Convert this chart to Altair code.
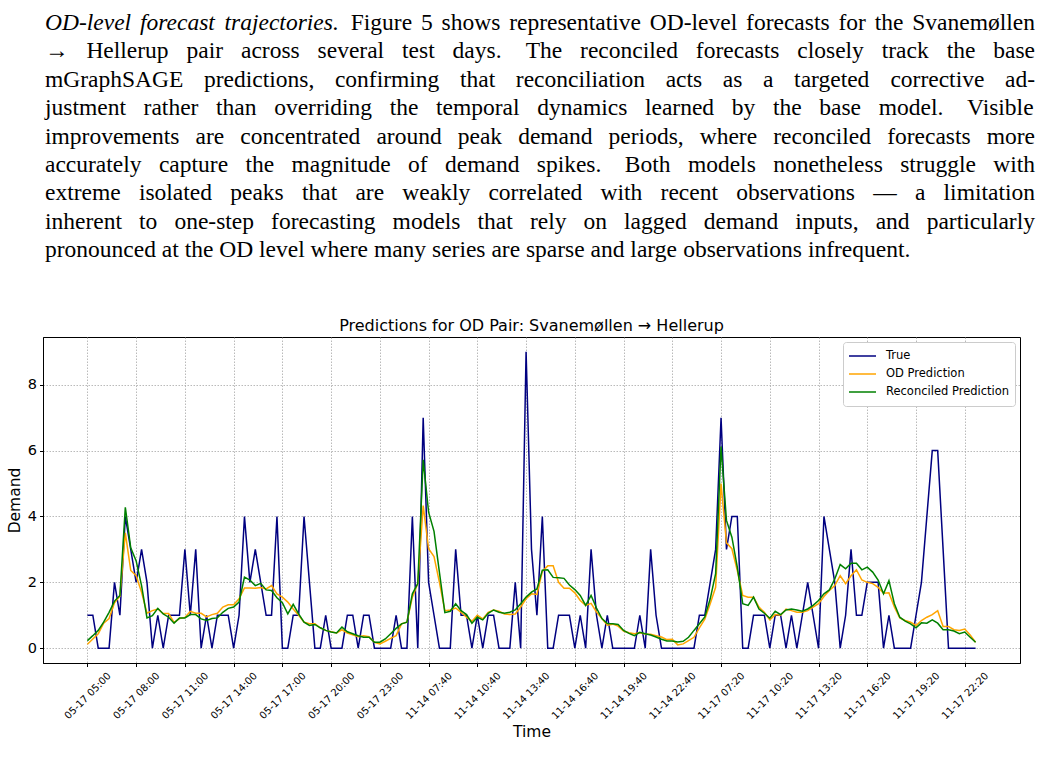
import json
import altair as alt
import pandas as pd

# ---------------- data ----------------
true_vals = [1, 1, 0, 0, 0, 2, 1, 4, 3, 2, 3, 2, 0, 1, 0, 1, 1, 1, 3, 1, 3, 0, 1, 0,
             1, 1, 1, 0, 1, 4, 2, 3, 2, 1, 1, 4, 0, 0, 1, 1, 4, 2, 0, 0, 1, 0,
             0, 0, 1, 1, 0, 1, 1, 0, 0, 0, 0, 1, 0, 0, 4, 0, 7, 2, 1, 0, 0, 0, 3,
             1, 1, 0, 1, 0, 1, 1, 0, 0, 0, 2, 0, 9, 3, 1, 4, 0, 0, 1, 1, 1, 0, 1,
             0, 3, 1, 0, 1, 0, 0, 0, 0, 0, 1, 0, 3, 1, 0, 0, 0, 0, 0, 0, 0, 1, 1,
             2, 3, 7, 3, 4, 4, 0, 0, 1, 1, 1, 0, 1, 1, 0, 1, 0, 1, 2, 1, 0, 4, 3,
             2, 0, 1, 3, 1, 1, 2, 2, 2, 0, 1, 0, 0, 0, 0, 1, 2, 4, 6, 6, 3, 0, 0,
             0, 0, 0, 0]

od_vals = [0.12, 0.28, 0.44, 0.76, 0.90, 1.38, 1.58, 3.50, 2.36, 2.20, 1.70, 1.06,
           1.14, 1.19, 1.05, 1.05, 0.78, 0.90, 0.93, 1.12, 1.06, 1.06, 0.95, 1.02,
           1.06, 1.25, 1.32, 1.32, 1.50, 1.83, 1.83, 1.82, 1.84, 1.80, 1.90, 1.65,
           1.55, 1.40, 1.19, 1.00, 0.79, 0.74, 0.74, 0.62, 0.54, 0.50,
           0.46, 0.56, 0.46, 0.41, 0.35, 0.38, 0.35, 0.18, 0.13, 0.21, 0.30, 0.38,
           0.74, 0.79, 1.55, 1.96, 4.33, 3.02, 2.78, 2.00, 1.14, 1.16, 1.22,
           1.09, 0.94, 0.82, 1.00, 0.89, 1.09, 1.16, 1.12, 1.04, 1.02, 1.04, 1.25,
           1.50, 1.65, 1.63, 2.33, 2.50, 2.50, 2.00, 1.82, 1.82, 1.68, 1.45,
           1.30, 1.36, 1.10, 0.90, 0.70, 0.73, 0.67, 0.52, 0.47, 0.44, 0.47, 0.43,
           0.42, 0.38, 0.34, 0.26, 0.27, 0.10, 0.13, 0.23, 0.33, 0.62, 0.88,
           1.35, 1.85, 5.00, 3.20, 3.02, 2.36, 1.60, 1.55, 1.55, 1.25, 1.09, 0.86,
           1.02, 1.00, 1.19, 1.14, 1.09, 1.09, 1.14, 1.25, 1.35, 1.57, 1.75,
           1.90, 2.20, 1.96, 2.20, 2.38, 2.07, 2.00, 1.96, 1.85, 1.67, 1.68, 1.25,
           0.92, 0.84, 0.79, 0.69, 0.84, 0.94, 1.02, 1.14, 0.66, 0.66, 0.56, 0.54,
           0.58, 0.40, 0.18]

rec_vals = [0.23, 0.38, 0.54, 0.79, 1.09, 1.43, 1.60, 4.28, 3.05, 2.65, 1.90, 0.92,
            0.99, 1.21, 1.04, 0.94, 0.76, 0.92, 0.92, 1.02, 1.02, 0.89, 0.84, 0.90,
            0.92, 1.09, 1.21, 1.25, 1.40, 2.16, 2.07, 1.90, 1.97, 1.77, 1.75, 1.53,
            1.38, 1.04, 1.33, 1.04, 0.79, 0.69, 0.72, 0.62, 0.54, 0.49,
            0.46, 0.64, 0.50, 0.44, 0.38, 0.33, 0.33, 0.18, 0.18, 0.28, 0.44, 0.60,
            0.74, 0.79, 1.65, 1.96, 5.72, 4.13, 3.55, 2.30, 1.08, 1.12, 1.35,
            1.14, 1.02, 0.76, 0.94, 0.86, 1.06, 1.16, 1.09, 1.06, 1.09, 1.16, 1.35,
            1.55, 1.70, 1.80, 2.37, 2.38, 2.15, 2.14, 2.12, 1.92, 1.78, 1.60,
            1.30, 1.60, 1.22, 0.90, 0.75, 0.74, 0.72, 0.54, 0.45, 0.38, 0.48, 0.44,
            0.40, 0.34, 0.27, 0.22, 0.22, 0.19, 0.21, 0.33, 0.54, 0.74, 0.95,
            1.50, 2.26, 6.12, 3.88, 3.37, 2.46, 1.35, 1.30, 1.55, 1.19, 1.06, 0.91,
            1.12, 1.02, 1.16, 1.19, 1.16, 1.12, 1.19, 1.30, 1.45, 1.65, 1.77,
            2.10, 2.54, 2.41, 2.58, 2.58, 2.38, 2.46, 2.31, 2.07, 1.65, 2.05, 1.35,
            0.94, 0.82, 0.74, 0.62, 0.77, 0.76, 0.86, 0.76, 0.56, 0.56, 0.52, 0.44,
            0.49, 0.33, 0.18]

tick_labels = ["05-17 05:00", "05-17 08:00", "05-17 11:00", "05-17 14:00",
               "05-17 17:00", "05-17 20:00", "05-17 23:00", "11-14 07:40",
               "11-14 10:40", "11-14 13:40", "11-14 16:40", "11-14 19:40",
               "11-14 22:40", "11-17 07:20", "11-17 10:20", "11-17 13:20",
               "11-17 16:20", "11-17 19:20", "11-17 22:20"]
tick_step = 9
y_ticks = [0, 2, 4, 6, 8]

series_names = ["True", "OD Prediction", "Reconciled Prediction"]
series_colors = ["#000080", "#FFA500", "#008000"]

chart_title = "Predictions for OD Pair: Svanemøllen \u2192 Hellerup"
x_title = "Time"
y_title = "Demand"

para_italic = "OD-level forecast trajectories."
para_lines = [
    "Figure 5 shows representative OD-level forecasts for the Svanemøllen",
    "\u2192 Hellerup pair across several test days. The reconciled forecasts closely track the base",
    "mGraphSAGE predictions, confirming that reconciliation acts as a targeted corrective ad-",
    "justment rather than overriding the temporal dynamics learned by the base model. Visible",
    "improvements are concentrated around peak demand periods, where reconciled forecasts more",
    "accurately capture the magnitude of demand spikes. Both models nonetheless struggle with",
    "extreme isolated peaks that are weakly correlated with recent observations \u2014 a limitation",
    "inherent to one-step forecasting models that rely on lagged demand inputs, and particularly",
    "pronounced at the OD level where many series are sparse and large observations infrequent.",
]

# ---------------- paragraph layout (justified, Times metrics) ----------------
ROMAN = {' ': 250, 'a': 444, 'b': 500, 'c': 444, 'd': 500, 'e': 444, 'f': 333,
         'g': 500, 'h': 500, 'i': 278, 'j': 278, 'k': 500, 'l': 278, 'm': 778,
         'n': 500, 'o': 500, 'p': 500, 'q': 500, 'r': 333, 's': 389, 't': 278,
         'u': 500, 'v': 500, 'w': 722, 'x': 500, 'y': 500, 'z': 444,
         'A': 722, 'B': 667, 'C': 667, 'D': 722, 'E': 611, 'F': 556, 'G': 722,
         'H': 722, 'I': 333, 'J': 389, 'K': 722, 'L': 611, 'M': 889, 'N': 722,
         'O': 722, 'P': 556, 'Q': 722, 'R': 667, 'S': 556, 'T': 611, 'U': 722,
         'V': 722, 'W': 944, 'X': 722, 'Y': 722, 'Z': 611, '.': 250, ',': 250,
         '-': 333, ':': 278, '\u00f8': 500, '\u2192': 1000, '\u2014': 1000}
ITALIC = {'O': 722, 'D': 722, '-': 333, 'l': 278, 'e': 444, 'v': 444, 'f': 278,
          'o': 500, 'r': 389, 'c': 444, 'a': 500, 's': 389, 't': 278, 'j': 278,
          'i': 278, '.': 250, ' ': 250}
FS = 23.5
LEFT, RIGHT = 45, 1035
BASE0, LINE_H = 30, 28.4


def word_w(word, italic):
    tbl = ITALIC if italic else ROMAN
    return sum(tbl.get(ch, 500) for ch in word) * FS / 1000.0


para_rows = []
line_words = [[(w, True) for w in para_italic.split()] + [(w, False) for w in para_lines[0].split()]]
line_words += [[(w, False) for w in ln.split()] for ln in para_lines[1:]]
for k, words in enumerate(line_words):
    widths = [word_w(w, it) for w, it in words]
    weights = [1.35 if w.endswith('.') else 1.0 for w, _ in words[:-1]]
    if k < len(line_words) - 1:
        unit = (RIGHT - LEFT - sum(widths)) / sum(weights)
    else:
        unit = ROMAN[' '] * FS / 1000.0
    x = LEFT
    for j, (w, it) in enumerate(words):
        para_rows.append({"word": w, "px": x, "py": BASE0 + k * LINE_H, "it": it})
        if j < len(weights):
            x += widths[j] + unit * weights[j]
para_df = pd.DataFrame(para_rows)

# ---------------- chart ----------------
rows = []
for name, vals in zip(series_names, [true_vals, od_vals, rec_vals]):
    for i, v in enumerate(vals):
        rows.append({"idx": i, "value": v, "series": name})
df = pd.DataFrame(rows)

n = len(true_vals)
x_dom = [-(n - 1) * 0.05, (n - 1) * 1.05]
y_dom = [-0.45, 9.45]

W, H = 977, 326
PAD_L, PAD_T = 43, 337
para_df["px"] = para_df["px"] - PAD_L
para_df["py"] = para_df["py"] - PAD_T

label_expr = json.dumps(tick_labels) + "[round(datum.value / %d)]" % tick_step

lines = alt.Chart(df).mark_line(strokeWidth=1.5).encode(
    x=alt.X("idx:Q",
            scale=alt.Scale(domain=x_dom, nice=False, zero=False),
            axis=alt.Axis(values=list(range(0, n, tick_step)), labelExpr=label_expr,
                          labelAngle=-45, labelAlign="center", labelBaseline="middle",
                          labelPadding=29, labelFontSize=10, labelOverlap=False,
                          labelFlush=False, title=x_title, titleY=68,
                          titleBaseline="middle")),
    y=alt.Y("value:Q",
            scale=alt.Scale(domain=y_dom, nice=False, zero=False),
            axis=alt.Axis(values=y_ticks, format="d", labelFontSize=14.5,
                          labelPadding=3, title=y_title, titleX=-29,
                          titleBaseline="middle")),
    color=alt.Color("series:N",
                    scale=alt.Scale(domain=series_names, range=series_colors),
                    sort=series_names,
                    legend=alt.Legend(title=None, orient="top-right", offset=5,
                                      padding=5, symbolType="stroke", symbolSize=729,
                                      symbolStrokeWidth=1.5, labelFontSize=11.5,
                                      labelFont="DejaVu Sans", labelColor="black",
                                      labelOffset=9, clipHeight=18, rowPadding=0,
                                      strokeColor="#cccccc", fillColor="white",
                                      cornerRadius=3)),
)

title_layer = alt.Chart(pd.DataFrame({"t": [chart_title]})).mark_text(
    align="center", baseline="alphabetic", font="DejaVu Sans", fontSize=16,
    color="black").encode(text="t:N", x=alt.value(W / 2), y=alt.value(-6))

para_norm = alt.Chart(para_df[~para_df["it"]]).mark_text(
    align="left", baseline="alphabetic", font="Liberation Serif", fontSize=FS,
    color="black").encode(
    text="word:N",
    x=alt.X("px:Q", scale=None, axis=None),
    y=alt.Y("py:Q", scale=None, axis=None))

para_ital = alt.Chart(para_df[para_df["it"]]).mark_text(
    align="left", baseline="alphabetic", font="Liberation Serif", fontSize=FS,
    fontStyle="italic", color="black").encode(
    text="word:N",
    x=alt.X("px:Q", scale=None, axis=None),
    y=alt.Y("py:Q", scale=None, axis=None))

chart = alt.layer(lines, title_layer, para_norm, para_ital).properties(
    width=W, height=H,
    padding={"left": PAD_L, "top": PAD_T, "right": 1043 - PAD_L - W,
             "bottom": 781 - PAD_T - H},
    autosize=alt.AutoSizeParams(type="none"),
    background="white",
).configure_view(
    stroke="black", strokeWidth=1
).configure_axis(
    domainColor="black", tickColor="black", tickSize=3.5, labelColor="black",
    titleColor="black", labelFont="DejaVu Sans", titleFont="DejaVu Sans",
    titleFontSize=15.5, titleFontWeight="normal", gridColor="#a8a8a8",
    gridDash=[1.5, 1.5], gridWidth=0.8
)

chart.save("out.html", embed_options={"renderer": "svg", "actions": False})
